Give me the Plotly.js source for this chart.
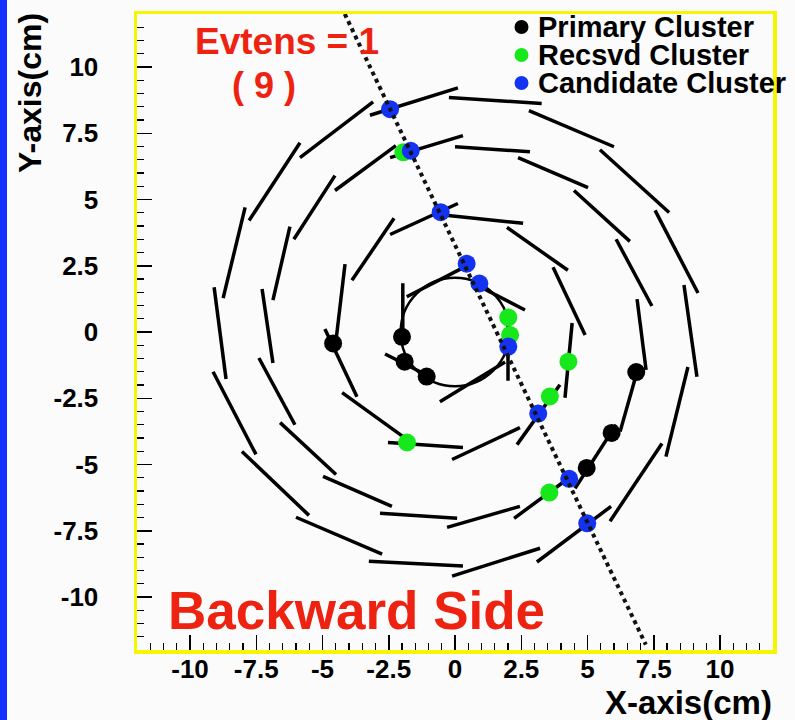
<!DOCTYPE html>
<html>
<head>
<meta charset="utf-8">
<script src="https://cdn.plot.ly/plotly-3.0.1.min.js"></script>
<style>
  html, body { margin: 0; padding: 0; background: #fbfbfb; }
  #chart { width: 795px; height: 720px; }
</style>
</head>
<body>
<div id="chart"></div>
<script>
// ---- Detector geometry: ladder segments [x0, y0, x1, y1] in cm ----
const layerOuter = [
  [-3.21, 8.18, 0.11, 9.21],
  [-0.23, 8.85, 3.27, 8.62],
  [2.79, 8.35, 6.00, 6.99],
  [5.47, 6.88, 8.08, 4.51],
  [7.55, 4.59, 9.17, 1.47],
  [8.64, 1.77, 9.13, -1.69],
  [8.79, -1.32, 7.96, -4.70],
  [7.81, -4.21, 5.85, -7.14],
  [5.89, -6.58, 3.09, -8.68],
  [3.21, -8.16, -0.11, -9.21],
  [0.30, -8.83, -3.25, -8.65],
  [-2.75, -8.38, -6.00, -6.99],
  [-5.51, -6.92, -8.04, -4.51],
  [-7.51, -4.62, -9.13, -1.50],
  [-8.64, -1.77, -9.09, 1.69],
  [-8.75, 1.28, -7.92, 4.70],
  [-7.77, 4.21, -5.85, 7.14],
  [-5.85, 6.58, -3.09, 8.68]
];

const layerMiddle = [
  [-2.45, 6.58, 0.30, 7.41],
  [0.00, 6.99, 2.83, 6.80],
  [2.38, 6.58, 5.02, 5.45],
  [4.49, 5.34, 6.60, 3.42],
  [6.08, 3.50, 7.43, 0.98],
  [6.87, 1.24, 7.21, -1.43],
  [6.87, -1.50, 6.23, -3.76],
  [6.08, -3.50, 4.53, -5.90],
  [4.53, -5.34, 2.23, -7.03],
  [2.45, -6.58, -0.30, -7.37],
  [0.08, -7.03, -2.83, -6.84],
  [-2.38, -6.58, -4.98, -5.45],
  [-4.49, -5.38, -6.60, -3.42],
  [-6.04, -3.50, -7.40, -0.98],
  [-6.87, -1.17, -7.28, 1.62],
  [-6.87, 1.20, -6.23, 3.98],
  [-6.08, 3.50, -4.53, 5.90],
  [-4.53, 5.34, -2.23, 7.03]
];

const layerInner = [
  [-2.45, 3.68, 0.11, 4.85],
  [-0.26, 4.40, 2.57, 4.10],
  [1.96, 3.95, 4.26, 2.33],
  [3.70, 2.44, 4.91, -0.11],
  [4.42, 0.34, 4.15, -2.48],
  [3.96, -1.99, 2.34, -4.25],
  [2.45, -3.61, -0.11, -4.81],
  [0.30, -4.36, -2.53, -4.17],
  [-1.96, -3.95, -4.26, -2.29],
  [-3.70, -2.44, -4.91, 0.11],
  [-4.50, -0.40, -4.15, 2.56],
  [-3.89, 1.95, -2.30, 4.29]
];

const layerCore = [
  [-1.97, 1.84, -1.97, -0.30],
  [-1.82, 1.33, 0.35, 2.45],
  [0.94, 1.71, 2.64, 0.83],
  [2.00, 0.30, 2.00, -1.84],
  [1.89, -1.13, -0.57, -2.63],
  [-0.94, -1.69, -2.64, -0.83]
];

const beamPipeRadius = 2.05;

// ---- Clusters (cm) ----
const primaryX = [-4.60, -2.00, -1.90, -1.07, 6.84, 5.91, 4.97];
const primaryY = [-0.43, -0.18, -1.12, -1.68, -1.51, -3.81, -5.13];

const recsvdX = [-1.95, 2.01, 2.08, 4.28, 3.58, 3.56, -1.81];
const recsvdY = [6.78, 0.55, -0.11, -1.12, -2.43, -6.06, -4.17];

const candidateX = [-2.45, -1.67, -0.54, 0.44, 0.92, 2.01, 3.14, 4.31, 4.99];
const candidateY = [8.41, 6.84, 4.52, 2.58, 1.83, -0.55, -3.08, -5.54, -7.22];

// ---- Fitted track (end points) ----
const trackX = [-4.16, 7.20];
const trackY = [12.0, -11.8];

// ---- Axis ticks ----
const tickVals = [-10, -7.5, -5, -2.5, 0, 2.5, 5, 7.5, 10];
const tickText = ['-10', '-7.5', '-5', '-2.5', '0', '2.5', '5', '7.5', '10'];

const legendNames = ['Primary Cluster', 'Recsvd Cluster', 'Candidate Cluster'];
const legendColors = ['#000000', '#16e81c', '#1433f0'];

// ---- Styling ----
const FONT = 'Liberation Sans, Arial, Helvetica, sans-serif';
const RED = '#ee2211';
const AXIS_YELLOW = '#f6f600';
const PLOT = { l: 137, t: 14, w: 636, h: 636 };
const fx = p => (p - PLOT.l) / PLOT.w;            // pixel column -> paper x
const fy = p => (PLOT.t + PLOT.h - p) / PLOT.h;   // pixel row -> paper y

function segmentTrace(segs, name) {
  const x = [], y = [];
  segs.forEach(s => { x.push(s[0], s[2], null); y.push(s[1], s[3], null); });
  return {
    type: 'scatter', mode: 'lines', x, y, name,
    showlegend: false, hoverinfo: 'skip',
    line: { color: '#000', width: 3.5 }
  };
}

function clusterTrace(x, y, name, color) {
  return {
    type: 'scatter', mode: 'markers', x, y, name, showlegend: false,
    marker: { size: 18, color, line: { width: 0 } }
  };
}

const traces = [
  segmentTrace(layerOuter, 'layer 4'),
  segmentTrace(layerMiddle, 'layer 3'),
  segmentTrace(layerInner, 'layer 2'),
  segmentTrace(layerCore, 'layer 1'),
  clusterTrace(recsvdX, recsvdY, legendNames[1], legendColors[1]),
  clusterTrace(primaryX, primaryY, legendNames[0], legendColors[0]),
  clusterTrace(candidateX, candidateY, legendNames[2], legendColors[2]),
  {
    type: 'scatter', mode: 'lines', x: trackX, y: trackY, name: 'track',
    showlegend: false, hoverinfo: 'skip',
    line: { color: '#111', width: 4, dash: '4px,4px' }
  }
];

function axis(fontSize, standoff) {
  return {
    range: [-12, 12],
    tickmode: 'array', tickvals: tickVals, ticktext: tickText,
    ticks: 'inside', ticklen: 15, tickwidth: 1.5, tickcolor: '#000',
    minor: { tickmode: 'linear', tick0: 0, dtick: 0.5, ticks: 'inside', ticklen: 7, tickwidth: 1.2, tickcolor: '#000', showgrid: false },
    showgrid: false, zeroline: false,
    showline: true, linecolor: AXIS_YELLOW, linewidth: 3.5, mirror: true,
    tickfont: { family: FONT, size: fontSize, color: '#000', weight: 700 },
    ticklabelstandoff: standoff,
    fixedrange: true
  };
}

const txt = (text, x, y, size, color, extra) => Object.assign({
  text, x: fx(x), y: fy(y), xref: 'paper', yref: 'paper', showarrow: false,
  xanchor: 'left', yanchor: 'middle',
  font: { family: FONT, size, color, weight: 700 }
}, extra || {});

const annotations = [
  txt('Evtens = 1', 193, 42, 37, RED),
  txt('( 9 )', 264, 86, 36, RED, { xanchor: 'center' }),
  txt('Backward Side', 166, 610, 53, RED),
  txt('Y-axis(cm)', 30, 93, 32, '#000', { xanchor: 'center', textangle: -90 }),
  txt('X-axis(cm)', 688, 702, 33, '#000', { xanchor: 'center' }),
  txt('Finding and Fitting Result', 133, 716, 32, '#000', { yanchor: 'top' })
];

const legendRows = [27, 55, 83];
const shapes = [
  {
    type: 'circle', xref: 'x', yref: 'y', layer: 'below',
    x0: -beamPipeRadius, x1: beamPipeRadius, y0: -beamPipeRadius, y1: beamPipeRadius,
    line: { color: '#000', width: 2.5 }
  },
  {
    type: 'rect', xref: 'paper', yref: 'paper',
    x0: fx(0), x1: fx(7), y0: fy(720), y1: fy(0),
    fillcolor: '#1230ff', line: { width: 0 }
  }
];
legendNames.forEach((name, i) => {
  annotations.push(txt(name, 536, legendRows[i], 29, '#000'));
  shapes.push({
    type: 'circle', xref: 'paper', yref: 'paper',
    xsizemode: 'pixel', ysizemode: 'pixel',
    xanchor: fx(521.5), yanchor: fy(legendRows[i]),
    x0: -7, x1: 7, y0: -7, y1: 7,
    fillcolor: legendColors[i], line: { width: 0 }
  });
});

const layout = {
  width: 795, height: 720,
  margin: { l: PLOT.l, r: 795 - PLOT.l - PLOT.w, t: PLOT.t, b: 720 - PLOT.t - PLOT.h, pad: 0 },
  paper_bgcolor: '#fbfbfb', plot_bgcolor: '#fbfbfb',
  showlegend: false,
  xaxis: axis(26, -7),
  yaxis: axis(26, 30),
  annotations, shapes,
  font: { family: FONT }
};

Plotly.newPlot('chart', traces, layout, { displayModeBar: false, staticPlot: true });
</script>
</body>
</html>
